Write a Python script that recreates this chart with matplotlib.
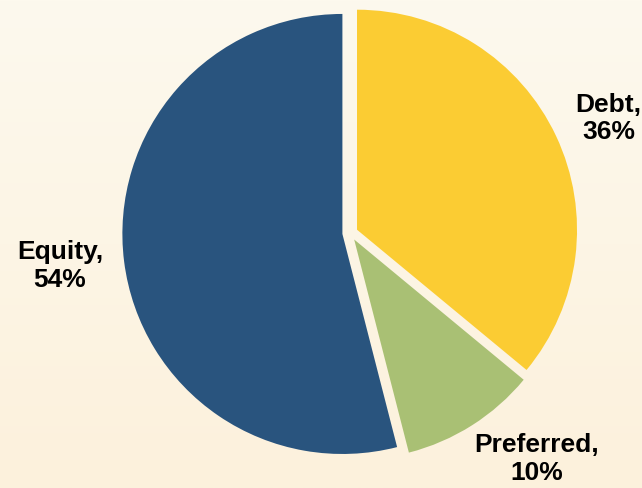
import matplotlib.pyplot as plt
import numpy as np
from matplotlib.colors import LinearSegmentedColormap

labels = ["Debt", "Preferred", "Equity"]
shares = [36, 10, 54]
colors = ["#fbcc33", "#a9c074", "#29547e"]

bg = "#fdf6e6"

fig = plt.figure(figsize=(6.42, 4.88), dpi=100)
fig.patch.set_facecolor(bg)
ax = fig.add_axes([0, 0, 1, 1])
ax.set_facecolor(bg)

# soft vertical gradient like the slide background
grad = np.linspace(0, 1, 256).reshape(-1, 1)
cmap = LinearSegmentedColormap.from_list("bg", ["#fdf9ee", "#fcf1dc"])
ax.imshow(grad, extent=(-1.591, 1.327, -1.159, 1.059), cmap=cmap,
          aspect="auto", zorder=0, origin="upper")

wedges, _ = ax.pie(shares, colors=colors, startangle=90, counterclock=False,
                   explode=[0.035, 0.035, 0.035], radius=1.0,
                   wedgeprops=dict(linewidth=0))
for w in wedges:
    w.set_zorder(2)

label_pos = [(1.175, 0.52), (0.85, -1.028), (-1.318, -0.15)]
for lab, s, (x, y) in zip(labels, shares, label_pos):
    ax.text(x, y, f"{lab},\n{s}%", ha="center", va="center",
            multialignment="center", fontsize=19, fontweight="bold",
            family="Liberation Sans", linespacing=1.2, zorder=3)

ax.set_xlim(-1.591, 1.327)
ax.set_ylim(-1.159, 1.059)
ax.set_aspect("equal")
ax.axis("off")

plt.savefig("out.png", dpi=100, facecolor=bg)
